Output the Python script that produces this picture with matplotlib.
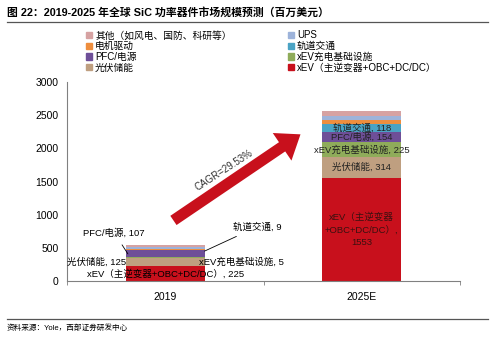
import numpy as np
import matplotlib
matplotlib.use('Agg')
import matplotlib.pyplot as plt
from matplotlib.patches import FancyArrowPatch, Patch

plt.rcParams['font.family'] = ['Liberation Sans', 'Noto Sans CJK SC']

# datos
anios = ['2019', '2025E']
segmentos = ['xEV（主逆变器+OBC+DC/DC）', '光伏储能', 'xEV充电基础设施', 'PFC/电源',
             '轨道交通', '电机驱动', 'UPS', '其他（如风电、国防、科研等）']
valores_2019 = [225, 125, 5, 107, 9, 12, 25, 35]
valores_2025 = [1553, 314, 225, 154, 118, 65, 60, 80]
colores = ['#c8101c', '#bf9f80', '#8fac5a', '#6e4f98', '#4aa3c4', '#ee8e3e', '#9db3da', '#d6a2a2']
cagr = 'CAGR=29.53%'

fig = plt.figure(figsize=(5, 3.39), dpi=100)
ax = fig.add_axes([0.134, 0.171, 0.786, 0.587])

x = np.arange(len(anios))
datos = np.array([valores_2019, valores_2025])
base = np.zeros(len(anios))
for i, seg in enumerate(segmentos):
    ax.bar(x, datos[:, i], 0.4, bottom=base, color=colores[i], label=seg, linewidth=0)
    base = base + datos[:, i]

ax.set_xlim(-0.5, 1.5)
ax.set_ylim(0, 3000)
ax.set_yticks(range(0, 3001, 500))
ax.set_xticks(x)
ax.set_xticklabels(anios)
ax.set_xticks([-0.5, 0.5, 1.5], minor=True)
ax.tick_params(axis='x', which='major', length=0, labelsize=7.5, pad=8)
ax.tick_params(axis='x', which='minor', length=3, color='#808080')
ax.tick_params(axis='y', length=0, labelsize=7.5, pad=6)
for s in ['top', 'right']:
    ax.spines[s].set_visible(False)
for s in ['left', 'bottom']:
    ax.spines[s].set_color('#808080')
    ax.spines[s].set_linewidth(0.8)

fs = 6.8
# etiquetas 2019
cum19 = np.cumsum(valores_2019)
ax.text(0, cum19[0] / 2, segmentos[0] + ', %d' % valores_2019[0],
        ha='center', va='center', fontsize=fs)
ax.text(-0.2, cum19[0] + valores_2019[1] / 2, '光伏储能, %d' % valores_2019[1],
        ha='right', va='center', fontsize=fs)
ax.annotate('PFC/电源, %d' % valores_2019[3], xy=(-0.19, cum19[2] + valores_2019[3] / 2),
            xytext=(-0.26, 730), ha='center', va='center', fontsize=fs,
            arrowprops=dict(arrowstyle='-', color='black', lw=0.6, shrinkA=4, shrinkB=0))
ax.annotate('轨道交通, %d' % valores_2019[4], xy=(0.2, cum19[4] - 20),
            xytext=(0.47, 820), ha='center', va='center', fontsize=fs,
            arrowprops=dict(arrowstyle='-', color='black', lw=0.6, shrinkA=4, shrinkB=0))
ax.text(0.17, 290, 'xEV充电基础设施, %d' % valores_2019[2], ha='left', va='center', fontsize=fs)

# etiquetas 2025E
cum25 = np.cumsum(valores_2025)
ax.text(1, cum25[0] / 2, 'xEV（主逆变器\n+OBC+DC/DC）,\n%d' % valores_2025[0],
        ha='center', va='center', fontsize=fs, color='#3a1010', linespacing=1.5)
for i in range(1, 5):
    etiqueta = segmentos[i] + ', %d' % valores_2025[i]
    ax.text(1, cum25[i] - valores_2025[i] / 2, etiqueta, ha='center', va='center',
            fontsize=fs, color='#222222')

# flecha CAGR
flecha = FancyArrowPatch((0.03, 890), (0.70, 2235), arrowstyle='simple,head_length=16,head_width=24,tail_width=8',
                         mutation_scale=1, color='#c8101c', linewidth=0)
ax.add_patch(flecha)
ax.text(0.30, 1670, cagr, rotation=33, ha='center', va='center', fontsize=7, color='#333333')

# leyenda
h = [Patch(color=colores[i]) for i in [7, 5, 3, 1, 6, 4, 2, 0]]
l = [segmentos[i] for i in [7, 5, 3, 1, 6, 4, 2, 0]]
fig.legend(h, l, loc='upper left', bbox_to_anchor=(0.163, 0.925), ncol=2, frameon=False,
           fontsize=7, handlelength=0.6, handleheight=0.6, handletextpad=0.3,
           columnspacing=5.8, labelspacing=0.08, borderpad=0)

# titulo y fuente
fig.text(0.014, 0.963, '图 22：2019-2025 年全球 SiC 功率器件市场规模预测（百万美元）',
         fontsize=7.8, va='center', ha='left', fontweight='bold')
fig.add_artist(plt.Line2D([0.014, 0.976], [0.935, 0.935], color='#555555', lw=0.9))
fig.add_artist(plt.Line2D([0.014, 0.976], [0.059, 0.059], color='#555555', lw=0.9))
fig.text(0.014, 0.032, '资料来源：Yole，西部证券研发中心', fontsize=5.5, va='center', ha='left')

fig.savefig('out.png', dpi=100)
